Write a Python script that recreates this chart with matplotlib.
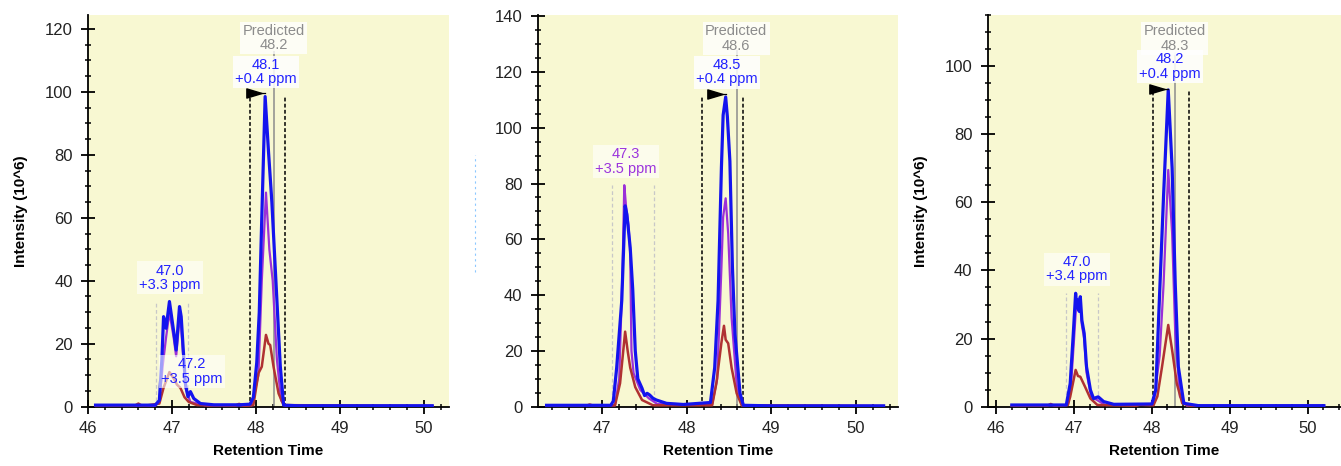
import matplotlib
matplotlib.use("Agg")
import matplotlib.pyplot as plt
from matplotlib.ticker import MultipleLocator
from matplotlib.lines import Line2D
from matplotlib.path import Path

plt.rcParams['font.family'] = ['Liberation Sans', 'DejaVu Sans']

# ---------------- data: panel 1 ----------------
p1_blue_x = [46.09, 46.5, 46.8, 46.85, 46.88, 46.90, 46.93, 46.97, 47.02, 47.05, 47.09, 47.11, 47.16, 47.19,
             47.22, 47.26, 47.34, 47.5, 47.8, 47.93, 47.97, 48.01, 48.04, 48.07, 48.11, 48.15, 48.19, 48.24,
             48.29, 48.33, 48.5, 49.0, 50.1]
p1_blue_y = [0.5, 0.5, 0.5, 2, 15, 28.6, 24.9, 33.4, 24, 18, 31.8, 28.6, 7.4, 3.2,
             4.8, 2.6, 1.0, 0.6, 0.6, 0.8, 3, 14, 30, 60, 98.5, 81, 65, 39,
             13, 0.5, 0.3, 0.3, 0.3]
p1_purple_x = [46.09, 46.8, 46.85, 46.89, 46.93, 46.97, 47.02, 47.05, 47.09, 47.11, 47.16, 47.22, 47.4,
               47.95, 48.03, 48.07, 48.12, 48.16, 48.2, 48.25, 48.3, 48.35, 50.1]
p1_purple_y = [0.3, 0.3, 1.5, 13, 22, 30, 22, 16, 28, 25, 6, 1.5, 0.4,
               0.4, 10, 40, 68, 50, 40, 15, 2, 0.3, 0.3]
p1_brown_x = [46.09, 46.55, 46.6, 46.65, 46.85, 46.9, 46.97, 47.02, 47.06, 47.1, 47.15, 47.2, 47.3,
              47.75, 47.8, 47.85, 47.97, 48.03, 48.07, 48.12, 48.15, 48.17, 48.21, 48.27, 48.33, 50.1]
p1_brown_y = [0.2, 0.2, 1.0, 0.2, 1, 6, 11, 9, 7, 6, 3, 1.5, 0.5,
              0.3, 0.9, 0.3, 0.5, 10.6, 12.7, 22.8, 20, 19.6, 12.7, 4.2, 0.5, 0.2]

# ---------------- data: panel 2 ----------------
p2_blue_x = [46.34, 46.8, 47.1, 47.13, 47.17, 47.23, 47.27, 47.29, 47.33, 47.36, 47.39, 47.42, 47.47,
             47.50, 47.53, 47.56, 47.6, 47.64, 47.76, 47.96, 48.28, 48.33, 48.37, 48.41, 48.43, 48.46,
             48.48, 48.51, 48.54, 48.57, 48.63, 48.67, 49.0, 50.33]
p2_blue_y = [0.5, 0.5, 0.5, 2, 14, 38, 72, 69, 57, 42, 20, 10, 6.6,
             4, 4.8, 4.2, 3, 2.4, 1.2, 0.8, 1.5, 14, 38, 86, 104.5, 111,
             104, 88, 50, 26, 4.8, 0.5, 0.3, 0.3]
p2_purple_x = [46.34, 47.15, 47.2, 47.24, 47.26, 47.28, 47.31, 47.33, 47.345, 47.37, 47.45, 47.55, 47.65,
               48.3, 48.36, 48.41, 48.43, 48.46, 48.49, 48.53, 48.59, 48.65, 50.33]
p2_purple_y = [0.3, 0.5, 10, 50, 79.4, 72, 65, 55, 20, 12, 6, 3, 1,
               0.8, 10, 50, 68, 74.7, 62, 32, 8, 0.5, 0.3]
p2_brown_x = [46.34, 46.8, 46.85, 46.9, 47.15, 47.21, 47.27, 47.30, 47.33, 47.39, 47.47, 47.6, 48.3,
              48.35, 48.41, 48.44, 48.46, 48.49, 48.53, 48.59, 48.65, 50.33]
p2_brown_y = [0.2, 0.2, 0.8, 0.3, 0.5, 8.4, 26.9, 20, 14, 7, 2.4, 0.5, 0.5,
              8.4, 23, 29, 24, 22.7, 14, 4.8, 0.5, 0.2]

# ---------------- data: panel 3 ----------------
p3_blue_x = [46.2, 46.9, 46.95, 46.99, 47.02, 47.035, 47.05, 47.065, 47.08, 47.10, 47.13, 47.16, 47.21,
             47.25, 47.31, 47.38, 47.51, 48.0, 48.05, 48.09, 48.15, 48.21, 48.26, 48.30, 48.34, 48.41,
             48.6, 50.21]
p3_blue_y = [0.5, 0.5, 6.8, 21.5, 33.3, 29, 31.3, 28, 32.3, 25.4, 21.5, 11.7, 4.9,
             2.4, 2.9, 1.5, 0.7, 0.8, 5, 28, 62, 93, 70, 36, 11.7, 1,
             0.3, 0.3]
p3_purple_x = [46.2, 46.92, 46.96, 47.0, 47.03, 47.05, 47.08, 47.1, 47.13, 47.16, 47.22, 47.4, 48.02,
               48.1, 48.15, 48.21, 48.26, 48.30, 48.36, 48.45, 50.21]
p3_purple_y = [0.3, 0.5, 6, 20, 31, 29, 30, 24, 20, 10, 3, 0.5, 0.5,
               15, 36, 69.5, 50.9, 21.5, 3, 0.3, 0.3]
p3_brown_x = [46.2, 46.65, 46.7, 46.75, 46.92, 46.95, 47.02, 47.05, 47.08, 47.14, 47.21, 47.3, 47.8,
              47.85, 48.02, 48.07, 48.13, 48.21, 48.26, 48.32, 48.39, 48.5, 50.21]
p3_brown_y = [0.2, 0.2, 0.8, 0.2, 0.5, 2.9, 10.8, 9, 8.8, 5.9, 2.4, 0.5, 0.3,
              0.6, 0.4, 3, 11.7, 24, 16.6, 6.8, 1, 0.2, 0.2]

# annotation values
predicted_rt = [48.2, 48.6, 48.3]
main_rt = [48.1, 48.5, 48.2]
main_ppm = ["+0.4 ppm", "+0.4 ppm", "+0.4 ppm"]
side_labels = [
    [("47.0\n+3.3 ppm", 46.976, 40.9, 'blue'), ("47.2\n+3.5 ppm", 47.238, 11.1, 'blue')],
    [("47.3\n+3.5 ppm", 47.28, 87.8, 'purple')],
    [("47.0\n+3.4 ppm", 47.04, 40.4, 'blue')],
]

BLUE = '#1414EE'
PURPLE = '#9B30D8'
BROWN = '#B03232'
BG = '#F8F8D2'
GRAY = '#8C8C8C'
TXT_BLUE = '#2222FF'
TXT_PURPLE = '#9B33DD'

# elongated right-pointing triangle marker
TRI = Path([(-1.0, -0.6), (1.0, 0.0), (-1.0, 0.6), (-1.0, -0.6)],
           [Path.MOVETO, Path.LINETO, Path.LINETO, Path.CLOSEPOLY])

W, H = 1341, 466
fig = plt.figure(figsize=(W / 100, H / 100), dpi=100)

panels = [
    dict(left=88, right=449, xlim=(46.0, 50.30), ylim=(0, 124.4), ymaj=20, xticks=[46, 47, 48, 49, 50],
         data=(p1_purple_x, p1_purple_y, p1_brown_x, p1_brown_y, p1_blue_x, p1_blue_y),
         bounds=(47.93, 48.35), btop=98.5, tri=(47.98, 99.5), apex=48.11,
         pred_x=48.218, pred_c=117.1, main_c=(48.121, 106.3),
         gl=(46.81, 47.187), gtop=33.4, ylabel=True),
    dict(left=537.7, right=898, xlim=(46.235, 50.50), ylim=(0, 140.4), ymaj=20, xticks=[47, 48, 49, 50],
         data=(p2_purple_x, p2_purple_y, p2_brown_x, p2_brown_y, p2_blue_x, p2_blue_y),
         bounds=(48.18, 48.66), btop=111.1, tri=(48.33, 112.1), apex=48.46,
         pred_x=48.591, pred_c=132.0, main_c=(48.473, 119.9),
         gl=(47.118, 47.612), gtop=79.4, ylabel=False),
    dict(left=987.7, right=1341, xlim=(45.89, 50.43), ylim=(0, 115.0), ymaj=20, xticks=[46, 47, 48, 49, 50],
         data=(p3_purple_x, p3_purple_y, p3_brown_x, p3_brown_y, p3_blue_x, p3_blue_y),
         bounds=(48.01, 48.48), btop=93, tri=(48.06, 93.4), apex=48.21,
         pred_x=48.295, pred_c=108.1, main_c=(48.227, 99.8),
         gl=(46.895, 47.31), gtop=33.3, ylabel=True),
]

bottom_px, top_px = 406.7, 15
box = dict(boxstyle='square,pad=0.15', facecolor='white', edgecolor='none', alpha=0.78)
side_box = dict(boxstyle='square,pad=0.15', facecolor='white', edgecolor='none', alpha=0.6)

for i, p in enumerate(panels):
    ax = fig.add_axes([p['left'] / W, (H - bottom_px) / H, (p['right'] - p['left']) / W,
                       (bottom_px - top_px) / H])
    ax.set_facecolor(BG)
    ax.set_xlim(*p['xlim'])
    ax.set_ylim(*p['ylim'])
    for s in ['top', 'right']:
        ax.spines[s].set_visible(False)
    for s in ['left', 'bottom']:
        ax.spines[s].set_linewidth(1.3)
        ax.spines[s].set_color('black')
    ax.set_xticks(p['xticks'])
    ax.xaxis.set_minor_locator(MultipleLocator(0.2))
    ax.yaxis.set_major_locator(MultipleLocator(p['ymaj']))
    ax.yaxis.set_minor_locator(MultipleLocator(5))
    ax.tick_params(which='major', direction='inout', length=10, width=1.3, labelsize=12,
                   labelcolor='#222222')
    ax.tick_params(which='minor', direction='inout', length=5, width=1.1)
    ax.tick_params(axis='y', which='major', pad=6)
    ax.tick_params(axis='x', which='major', pad=5)

    px, py, bx, by, ux, uy = p['data']
    # guide lines
    ax.vlines(p['gl'], 0, p['gtop'], colors='#C8C8C8', linestyles=(0, (3, 2)), linewidth=0.9, zorder=1)
    ax.vlines(p['bounds'], 0, p['btop'], colors='black', linestyles=(0, (2.5, 1.5)), linewidth=1.1, zorder=2)
    ax.vlines([p['pred_x']], 0, p['pred_c'] - 4, colors=GRAY, linewidth=1.1, zorder=2)

    ax.plot(px, py, color=PURPLE, lw=1.6, zorder=3)
    ax.plot(bx, by, color=BROWN, lw=1.8, zorder=3.5)
    ax.plot(ux, uy, color=BLUE, lw=2.3, zorder=4)

    # arrow marker
    ax.plot([p['tri'][0], p['apex']], [p['tri'][1], p['tri'][1]], color='black', lw=0.9, zorder=5)
    ax.plot([p['tri'][0]], [p['tri'][1]], marker=TRI, color='black', markersize=11, zorder=5)

    # labels
    ax.text(p['pred_x'] - 0.005, p['pred_c'], f"Predicted\n{predicted_rt[i]}", color=GRAY,
            fontsize=10.5, ha='center', va='center', linespacing=1.05, bbox=box, zorder=6)
    ax.text(p['main_c'][0], p['main_c'][1], f"{main_rt[i]}\n{main_ppm[i]}", color=TXT_BLUE,
            fontsize=10.5, ha='center', va='center', linespacing=1.05,
            bbox=dict(boxstyle='square,pad=0.15', facecolor='white', edgecolor='none', alpha=0.85), zorder=7)
    for (t, x, y, c) in side_labels[i]:
        ax.text(x, y, t, color=TXT_BLUE if c == 'blue' else TXT_PURPLE, fontsize=10.5, ha='center',
                va='center', linespacing=1.05, bbox=side_box, zorder=6)

    ax.set_xlabel("Retention Time", fontsize=11, fontweight='bold', labelpad=6)
    if p['ylabel']:
        ax.set_ylabel("Intensity (10^6)", fontsize=11, fontweight='bold', labelpad=12)

# faint artifact of clipped y-label in panel 2
fig.add_artist(Line2D([475 / W, 475 / W], [(H - 272) / H, (H - 155) / H], color='#8CC8FF',
                      lw=0.8, linestyle=(0, (2, 3))))

fig.savefig("out.png", dpi=100)
